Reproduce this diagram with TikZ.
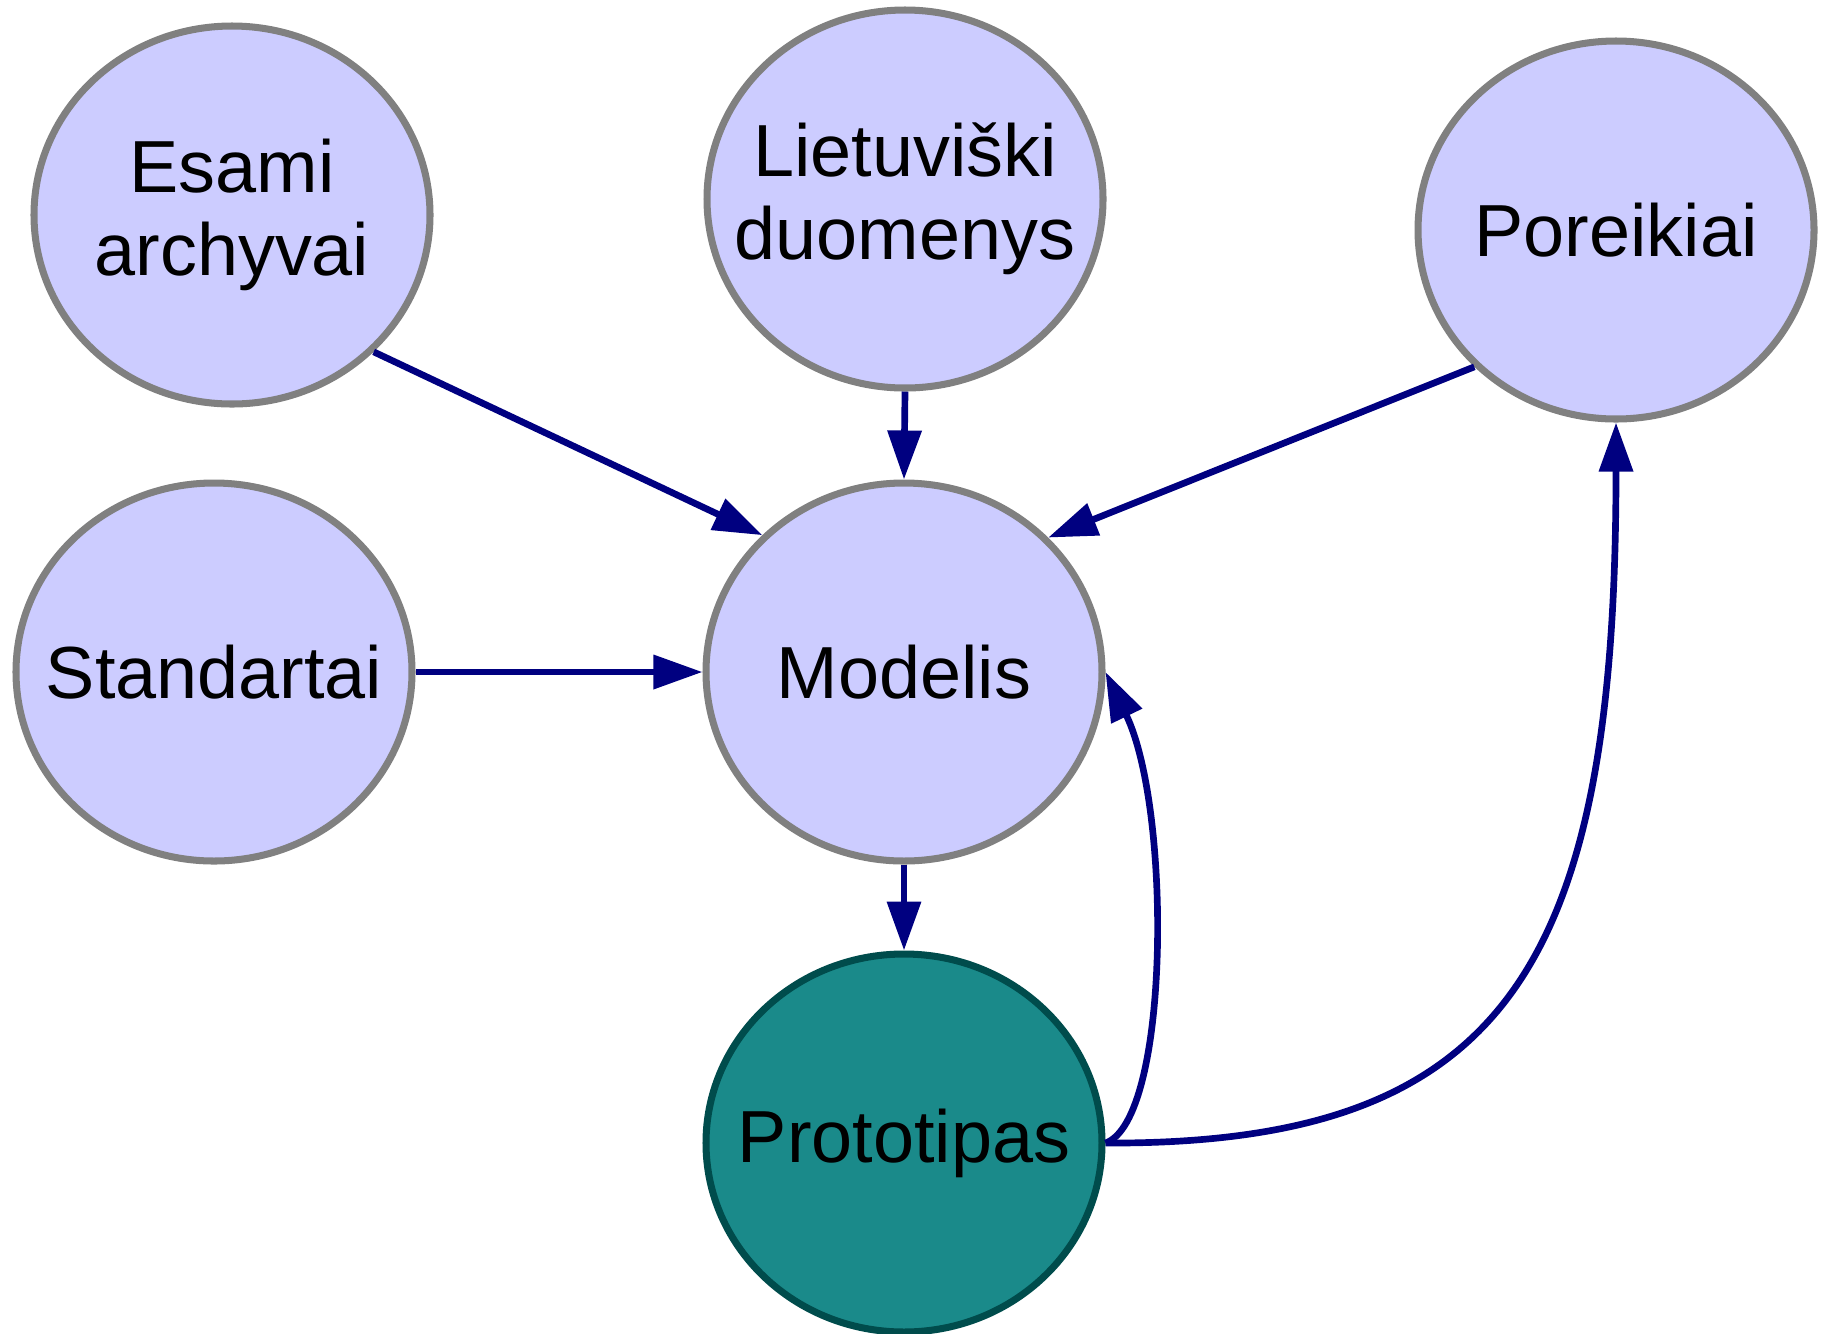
\documentclass[tikz,border=0pt]{standalone}
\usepackage{fontspec}
\setmainfont{Liberation Sans}
\usepackage{tikz}
\usetikzlibrary{shapes.geometric,arrows.meta}

\begin{document}
\begin{tikzpicture}[
  topic/.style={ellipse,draw=rimgray,fill=lavender,line width=2pt,
    minimum width=3.96cm,minimum height=3.78cm,inner xsep=-0.6cm,inner ysep=0pt,
    align=center,font=\fontsize{21}{23.6}\selectfont},
  result/.style={topic,draw=rimteal,fill=teal},
  link/.style={draw=navy,line width=1.9pt,-{Triangle[length=4.9mm,width=3.3mm]}}]
% Define node colours
\definecolor{lavender}{RGB}{204,204,255}
\definecolor{rimgray}{RGB}{128,128,128}
\definecolor{teal}{RGB}{26,138,138}
\definecolor{rimteal}{RGB}{0,76,76}
\definecolor{navy}{RGB}{0,0,128}

\useasboundingbox (0,0) rectangle (18.22,-13.33);

% Draw sources
\node[topic] (esami) at (2.32,-2.15) {Esami\\archyvai};
\node[topic] (lietuviski) at (9.05,-1.99) {Lietuviški\\duomenys};
\node[topic] (poreikiai) at (16.16,-2.30) {Poreikiai};
\node[topic] (standartai) at (2.14,-6.72) {Standartai};

% Draw model and prototype
\node[topic] (modelis) at (9.04,-6.72) {Modelis};
\node[result] (prototipas) at (9.04,-11.43) {Prototipas};

% Add links
\draw[link] (esami.-44) -- (modelis.136.5);
\draw[link] (lietuviski.south) -- (modelis.north);
\draw[link] (poreikiai.-136) -- (modelis.43.5);
\draw[link] (standartai.east) -- (modelis.west);
\draw[link] (modelis.south) -- (prototipas.north);

% Add feedback
\draw[link] (prototipas.east) .. controls (11.7,-11.2) and (11.72,-8.1) .. (modelis.east);
\draw[link] (prototipas.east) .. controls (15.05,-11.45) and (16.16,-9.68) .. (poreikiai.south);
\end{tikzpicture}
\end{document}
